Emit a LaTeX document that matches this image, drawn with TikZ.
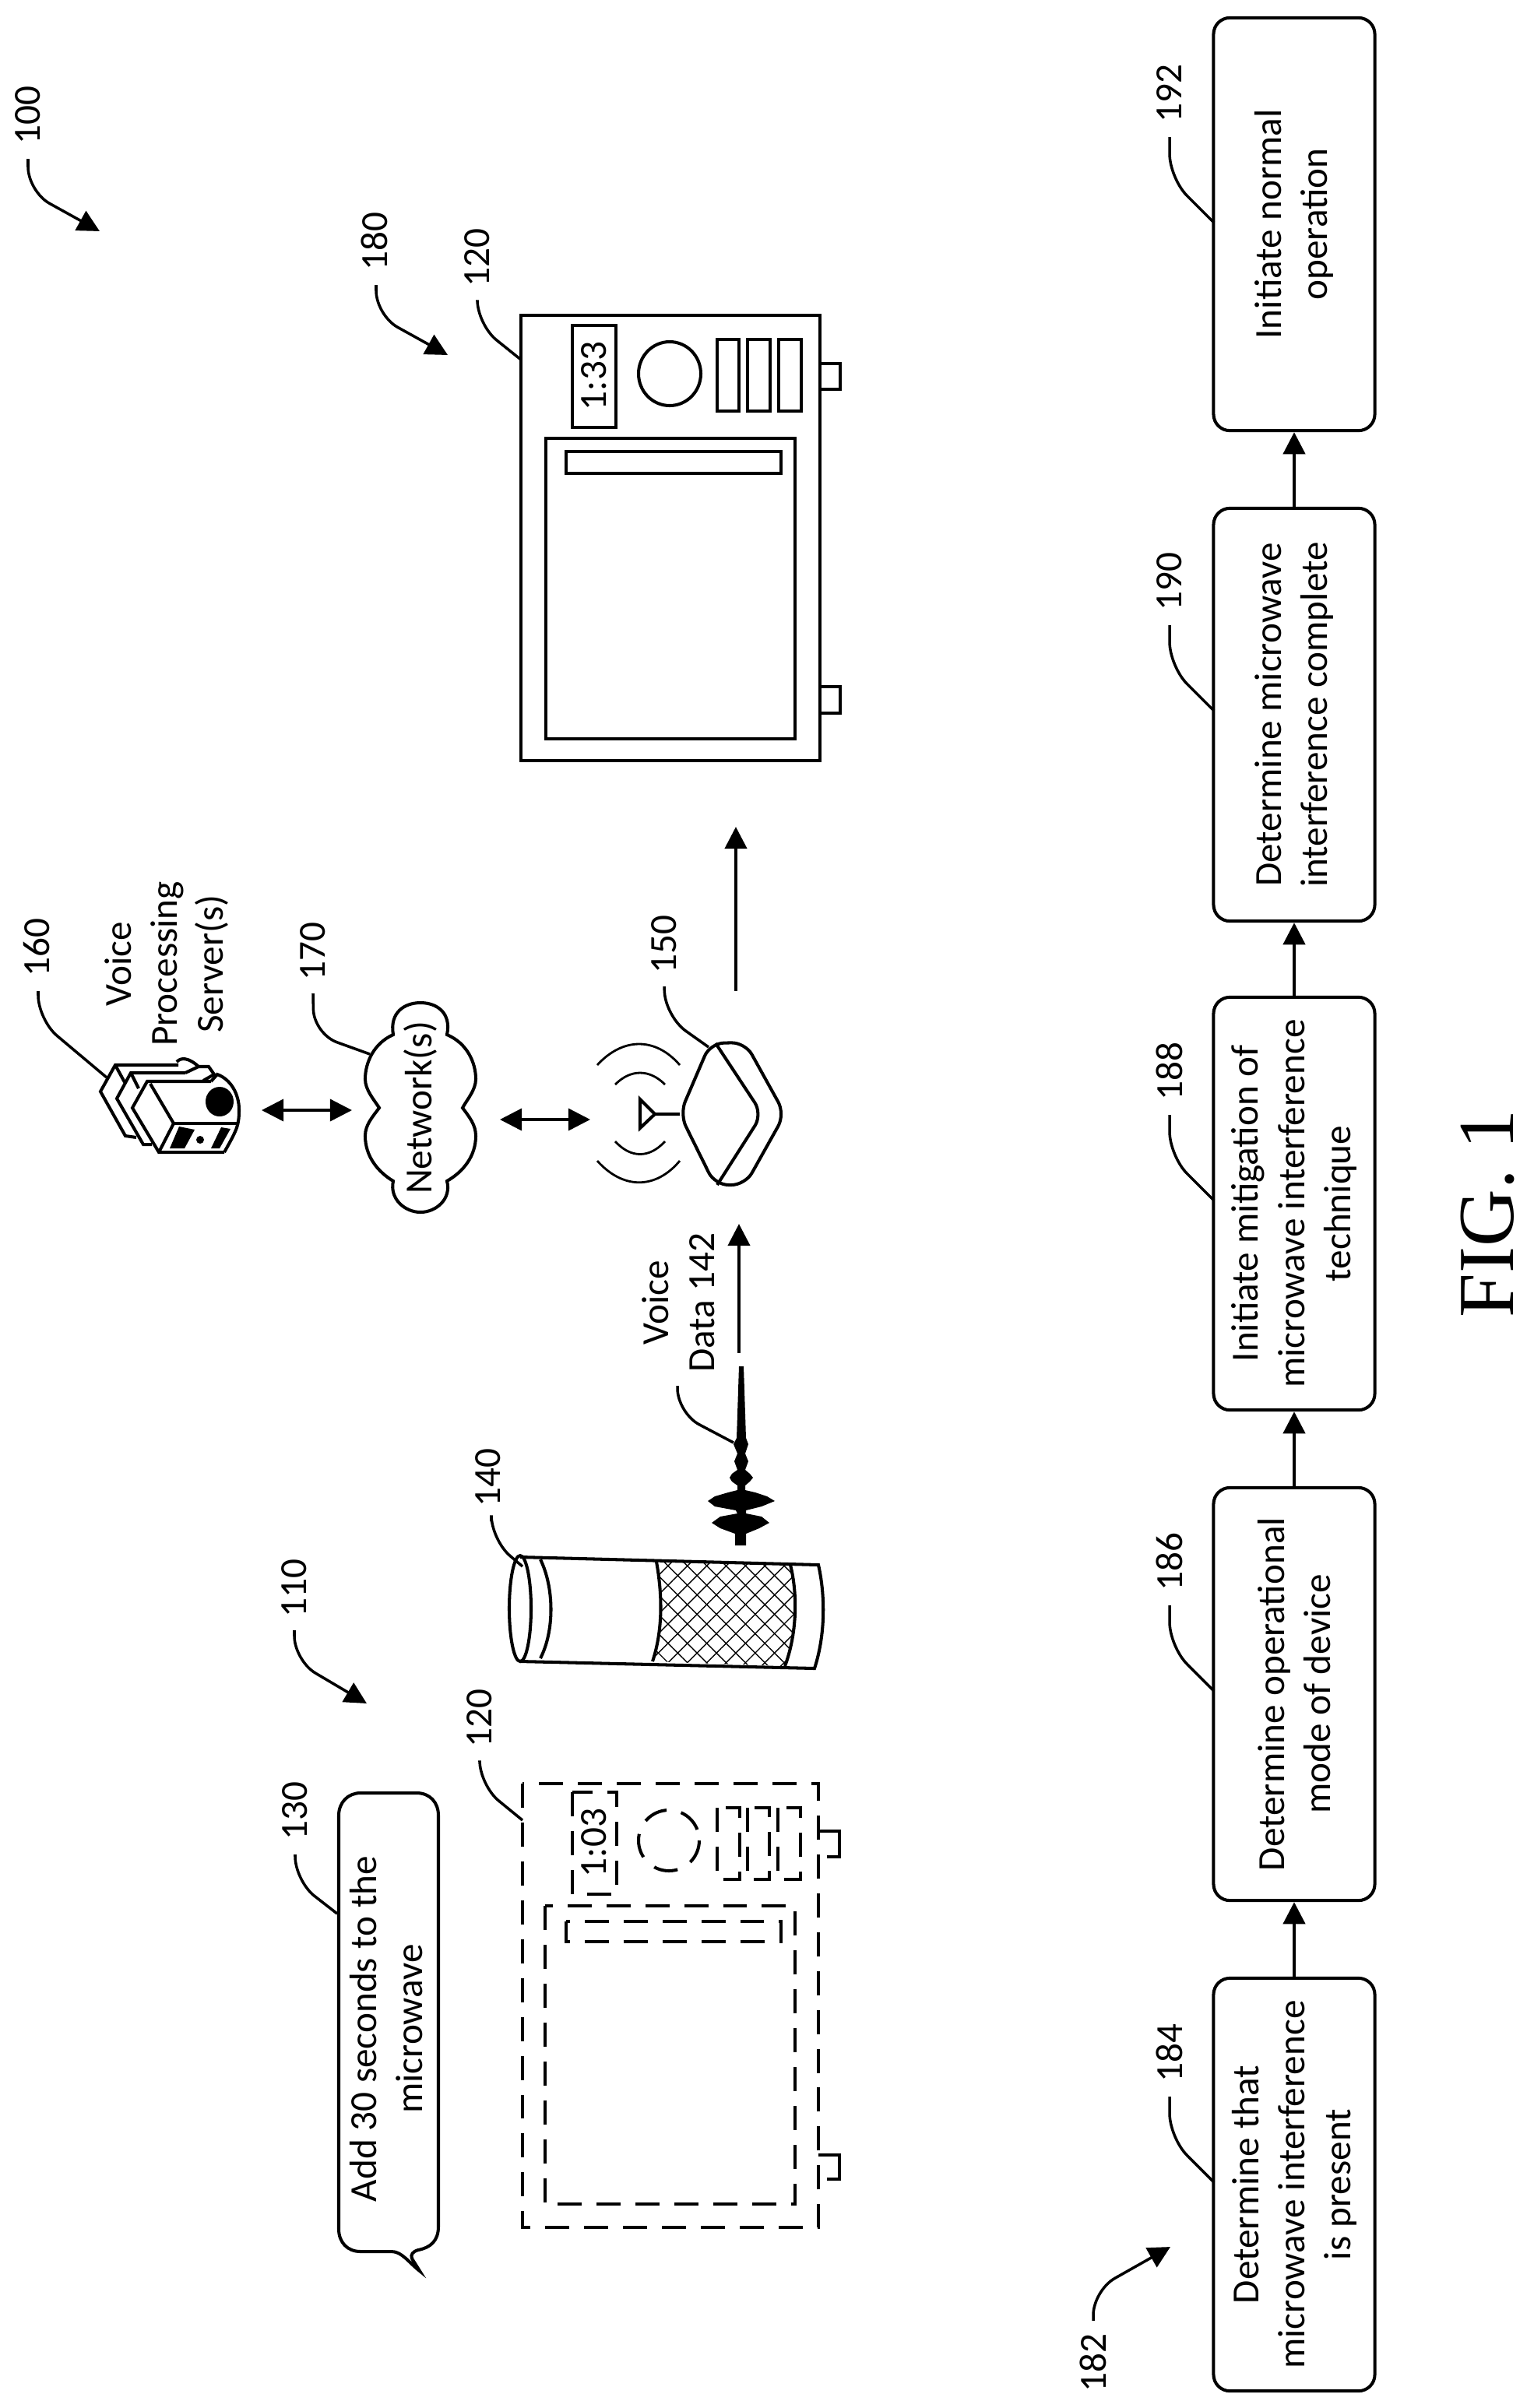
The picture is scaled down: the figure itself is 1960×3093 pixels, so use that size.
\documentclass[tikz,border=0pt]{standalone}
\usepackage{fontspec}
\setmainfont{Carlito}
\newfontfamily\figfont{Liberation Serif}
\usetikzlibrary{arrows.meta, patterns.meta}

\tikzset{
    labeltext/.style={rotate=90, align=center, inner sep=0pt, font=\fontsize{14}{16.8}\selectfont},
    stepbox/.style={labeltext, draw, line width=1.15pt, rounded corners=6pt, minimum width=5.3cm, minimum height=2.07cm},
    leader/.style={line width=1pt, rounded corners=9pt},
    pointer/.style={leader, -{Triangle[length=8pt,width=8pt]}},
    flowarrow/.style={line width=1.15pt, -{Triangle[length=8pt,width=8pt]}},
    bothways/.style={line width=1pt, {Triangle[length=8pt,width=8pt]}-{Triangle[length=8pt,width=8pt]}},
    mwline/.style={line width=1.15pt},
    mwdash/.style={line width=1.15pt, dash pattern=on 8.8pt off 5.4pt},
}

\begin{document}
\begin{tikzpicture}[x=0.01cm, y=-0.01cm]
    \useasboundingbox (0,0) rectangle (1960,3093);

    % reference numbers
    \node[labeltext] (n100) at (36,148) {100};
    \node[labeltext] (n110) at (378,2040) {110};
    \node[labeltext] (n120a) at (613,331) {120};
    \node[labeltext] (n120b) at (616,2207) {120};
    \node[labeltext] (n130) at (379,2326) {130};
    \node[labeltext] (n140) at (627,1898) {140};
    \node[labeltext] (n150) at (853,1213) {150};
    \node[labeltext] (n160) at (47,1217) {160};
    \node[labeltext] (n170) at (402,1222) {170};
    \node[labeltext] (n180) at (481,310) {180};
    \node[labeltext] (n182) at (1404,3035) {182};
    \node[labeltext] (n184) at (1502,2637) {184};
    \node[labeltext] (n186) at (1502,2006) {186};
    \node[labeltext] (n188) at (1502,1376) {188};
    \node[labeltext] (n190) at (1502,747) {190};
    \node[labeltext] (n192) at (1502,120) {192};

    % flow chart
    \node[stepbox] (b184) at (1662,2806) {Determine that\\microwave interference\\is present};
    \node[stepbox] (b186) at (1662,2176) {Determine operational\\mode of device};
    \node[stepbox] (b188) at (1662,1546) {Initiate mitigation of\\microwave interference\\technique};
    \node[stepbox] (b190) at (1662,918) {Determine microwave\\interference complete};
    \node[stepbox] (b192) at (1662,288) {Initiate normal\\operation};
    \draw[flowarrow] (b184) -- (b186);
    \draw[flowarrow] (b186) -- (b188);
    \draw[flowarrow] (b188) -- (b190);
    \draw[flowarrow] (b190) -- (b192);

    \coordinate (c184) at (1559,2803);
    \coordinate (c186) at (1559,2172);
    \coordinate (c188) at (1559,1542);
    \coordinate (c190) at (1559,913);
    \coordinate (c192) at (1559,286);
    \draw[leader] (n184.west) ++(0,18) -- (1502,2746) -- (c184);
    \draw[leader] (n186.west) ++(0,18) -- (1502,2115) -- (c186);
    \draw[leader] (n188.west) ++(0,18) -- (1502,1485) -- (c188);
    \draw[leader] (n190.west) ++(0,18) -- (1502,856) -- (c190);
    \draw[leader] (n192.west) ++(0,18) -- (1502,229) -- (c192);
    \coordinate (c182) at (1503,2886);
    \draw[pointer] (n182.east) ++(0,-16) -- (1404,2942) -- (c182);

    % group pointers
    \coordinate (c100) at (128,297);
    \coordinate (c110) at (471,2188);
    \coordinate (c180) at (575,456);
    \draw[pointer] (n100.west) ++(0,18) -- (36,246) -- (c100);
    \draw[pointer] (n110.west) ++(0,16) -- (378,2133) -- (c110);
    \draw[pointer] (n180.west) ++(2,18) -- (483,405) -- (c180);

    % microwave, running
    \draw[mwline] (669,405) rectangle (1053,977);
    \draw[mwline] (701,563) rectangle (1021,949);
    \draw[mwline] (727,580) rectangle (1003,608);
    \draw[mwline] (735,418) rectangle (791,549);
    \draw[mwline] (860,480) circle[x radius=40, y radius=41];
    \draw[mwline] (921,436) rectangle (949,528);
    \draw[mwline] (960,436) rectangle (989,528);
    \draw[mwline] (1000,436) rectangle (1029,528);
    \draw[mwline] (1053,467) -- (1079,467) -- (1079,500) -- (1053,500);
    \draw[mwline] (1053,882) -- (1079,882) -- (1079,916) -- (1053,916);
    \node[labeltext] (t133) at (763,483) {1:33};
    \coordinate (c120a) at (669,462);
    \draw[leader] (n120a.west) ++(0,18) -- (613,417) -- (c120a);

    % microwave, first
    \draw[mwdash] (671,2291) rectangle (1051,2861);
    \draw[mwdash] (700,2448) rectangle (1021,2831);
    \draw[mwdash] (727,2468) rectangle (1003,2494);
    \draw[mwdash] (735,2302) rectangle (792,2433);
    \draw[mwdash] (859,2364) circle[x radius=39, y radius=39];
    \draw[mwdash] (921,2322) rectangle (950,2414);
    \draw[mwdash] (960,2322) rectangle (988,2414);
    \draw[mwdash] (999,2322) rectangle (1028,2414);
    \draw[mwline] (1051,2352) -- (1078,2352) -- (1078,2385) -- (1062,2385);
    \draw[mwline] (1051,2768) -- (1078,2768) -- (1078,2799) -- (1062,2799);
    \node[labeltext] (t103) at (763,2367) {1:03};
    \coordinate (c120b) at (671,2338);
    \draw[leader] (n120b.west) ++(0,18) -- (616,2293) -- (c120b);

    % speech bubble
    \draw[mwline] (435,2600) -- (435,2332) .. controls (435,2315) and (447,2303) .. (463,2303) -- (535,2303)
        .. controls (552,2303) and (563,2315) .. (563,2332) -- (563,2860) .. controls (563,2878) and (553,2887) .. (537,2890)
        .. controls (530,2892) and (527,2896) .. (529,2901) -- (539,2917) .. controls (525,2906) and (516,2892) .. (503,2892)
        -- (463,2892) .. controls (446,2892) and (435,2880) .. (435,2863) -- cycle;
    \node[labeltext] (speech) at (496,2606) {Add 30 seconds to the\\microwave};
    \coordinate (c130) at (433,2458);
    \draw[leader] (n130.west) ++(0,18) -- (379,2416) -- (c130);

    % speaker
    \fill[pattern={Lines[angle=45,distance=5pt,line width=.4pt]}] (843,2006) .. controls (851,2050) and (851,2095) .. (838,2134) -- (1008,2140) .. controls (1023,2100) and (1025,2050) .. (1015,2010) -- cycle;
    \fill[pattern={Lines[angle=-45,distance=5pt,line width=.4pt]}] (843,2006) .. controls (851,2050) and (851,2095) .. (838,2134) -- (1008,2140) .. controls (1023,2100) and (1025,2050) .. (1015,2010) -- cycle;
    \draw[mwline] (668,2066) circle[x radius=14, y radius=68];
    \draw[mwline] (694,2003) .. controls (712,2040) and (712,2095) .. (694,2130);
    \draw[mwline] (668,2000) -- (1051,2010) .. controls (1060,2050) and (1060,2100) .. (1046,2143) -- (668,2134);
    \draw[mwline] (843,2006) .. controls (851,2050) and (851,2095) .. (838,2134);
    \draw[mwline] (1015,2010) .. controls (1025,2050) and (1023,2100) .. (1008,2140);
    \coordinate (c140) at (671,2012);
    \draw[leader] (n140.west) ++(4,18) -- (631,1978) -- (c140);

    % voice waveform
    \fill (949,1755) -- (946,1847) -- (942,1855) -- (947,1867) -- (943,1877) -- (947,1888) -- (940,1893) -- (937,1898) -- (940,1903) -- (947,1908)
        -- (947,1914) -- (935,1917) -- (918,1922) -- (909,1928) -- (918,1935) -- (945,1940) -- (947,1944) -- (925,1948) -- (914,1956) -- (925,1963) -- (944,1970) -- (944,1985)
        -- (958,1985) -- (958,1970) -- (975,1963) -- (988,1956) -- (978,1948) -- (958,1944) -- (958,1940) -- (978,1935) -- (995,1928) -- (985,1922) -- (970,1917) -- (957,1914)
        -- (957,1908) -- (963,1903) -- (967,1898) -- (963,1893) -- (957,1888) -- (961,1877) -- (957,1867) -- (961,1855) -- (958,1847) -- (955,1755) -- cycle;
    \node[labeltext] (voice) at (871,1673) {Voice\\Data 142};
    \coordinate (c142) at (942,1853);
    \coordinate (va) at (949,1738);
    \coordinate (vb) at (949,1572);
    \draw[flowarrow] (va) -- (vb);
    \draw[leader] (870,1780) -- (870,1815) -- (c142);

    % wireless base station
    \draw[mwline, rounded corners=5pt] (912,1340) -- (873,1431) -- (918,1522) -- (957,1522) -- (1008,1431) -- (957,1339) -- cycle;
    \draw[mwline, rounded corners=5pt] (919,1340) -- (979,1431) -- (921,1522);
    \draw[mwline] (873,1431) -- (841,1431) -- (822,1412) -- (822,1449) -- (841,1431);
    \draw[line width=.8pt] (790,1393) .. controls (810,1373) and (834,1373) .. (854,1393);
    \draw[line width=.8pt] (790,1466) .. controls (810,1488) and (834,1488) .. (854,1466);
    \draw[line width=.8pt] (767,1368) .. controls (800,1332) and (842,1332) .. (873,1368);
    \draw[line width=.8pt] (767,1491) .. controls (800,1528) and (842,1528) .. (873,1491);
    \coordinate (c150) at (910,1345);
    \draw[leader] (n150.west) ++(0,16) -- (855,1306) -- (c150);
    \coordinate (oa) at (945,1273);
    \coordinate (ob) at (945,1062);
    \draw[flowarrow] (oa) -- (ob);

    % network cloud
    \draw[mwline] (505,1329) .. controls (500,1300) and (520,1288) .. (540,1288) .. controls (560,1288) and (580,1300) .. (574,1329)
        .. controls (600,1340) and (611,1365) .. (611,1386) .. controls (611,1400) and (600,1412) .. (594,1423)
        .. controls (603,1435) and (611,1445) .. (611,1459) .. controls (611,1485) and (595,1505) .. (574,1517)
        .. controls (580,1540) and (560,1557) .. (540,1557) .. controls (520,1557) and (500,1540) .. (505,1517)
        .. controls (485,1505) and (469,1485) .. (469,1459) .. controls (469,1445) and (478,1435) .. (487,1423)
        .. controls (480,1412) and (469,1400) .. (469,1386) .. controls (469,1365) and (480,1340) .. (505,1329) -- cycle;
    \node[labeltext] (net) at (540,1423) {Network(s)};
    \coordinate (c170) at (475,1354);
    \draw[leader] (n170.west) ++(0,16) -- (403,1328) -- (c170);
    \coordinate (srv) at (336,1426);
    \coordinate (cl) at (452,1426);
    \coordinate (cr) at (642,1438);
    \coordinate (rt) at (758,1438);
    \draw[bothways] (srv) -- (cl);
    \draw[bothways] (cr) -- (rt);

    % server
    \draw[mwline] (229,1368) -- (148,1368) -- (129,1402) -- (161,1459) -- (175,1461);
    \draw[mwline] (238,1378) -- (168,1378) -- (150,1411) -- (184,1470) -- (195,1470);
    \draw[mwline] (148,1368) -- (160,1390);
    \draw[mwline] (168,1378) -- (178,1398);
    \draw[mwline] (271,1389) -- (189,1389) -- (170,1423) -- (204,1480) -- (288,1480);
    \draw[mwline] (193,1392) -- (223,1443) -- (204,1480);
    \draw[mwline] (223,1443) -- (305,1443);
    \draw[mwline] (271,1389) -- (279,1380) .. controls (296,1386) and (307,1405) .. (307,1425) .. controls (307,1445) and (305,1450) .. (288,1480);
    \draw[mwline] (227,1364) .. controls (232,1358) and (242,1358) .. (255,1370) -- (238,1378);
    \draw[mwline] (255,1370) -- (268,1370) -- (275,1380) -- (261,1388);
    \fill (282,1415) circle[x radius=18, y radius=19];
    \fill (218,1475) -- (230,1447) -- (250,1451) -- (237,1475) -- cycle;
    \fill (257,1464) circle[radius=5];
    \fill (271,1475) -- (284,1448) -- (296,1450) -- (282,1475) -- cycle;
    \node[labeltext] (srvtext) at (214,1238) {Voice\\Processing\\Server(s)};
    \coordinate (c160) at (137,1384);
    \draw[leader] (n160.west) ++(2,18) -- (49,1310) -- (c160);

    \node[rotate=90, inner sep=0pt, font=\figfont\fontsize{29}{32}\selectfont] (fig) at (1910,1559) {FIG. 1};
\end{tikzpicture}
\end{document}
